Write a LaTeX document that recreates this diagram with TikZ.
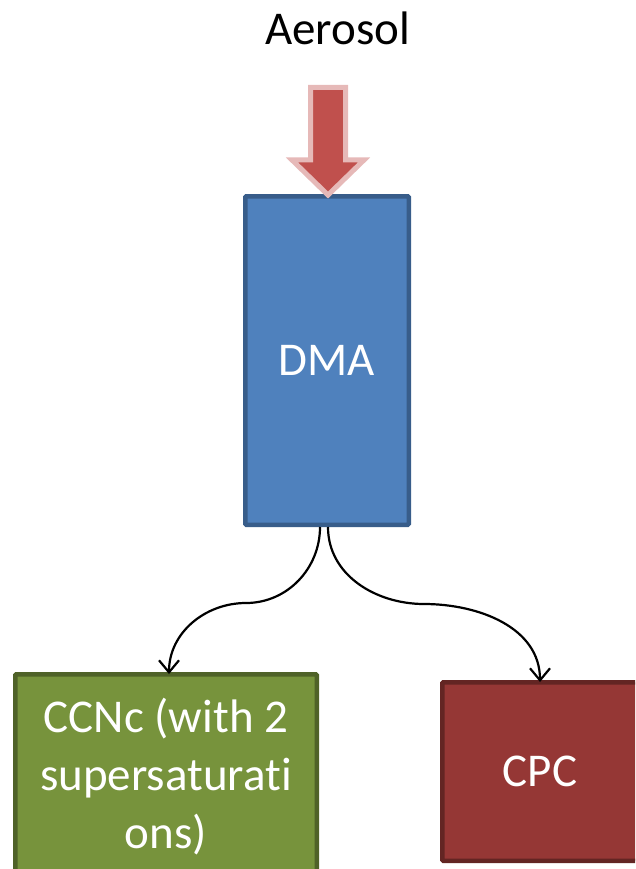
\documentclass[tikz,border=0pt]{standalone}
\usepackage{fontspec}
\setmainfont{Carlito}[Ligatures=NoCommon]
\usetikzlibrary{arrows.meta}

\definecolor{dmafill}{HTML}{4F81BD}
\definecolor{dmaline}{HTML}{385D8A}
\definecolor{ccnfill}{HTML}{77933C}
\definecolor{ccnline}{HTML}{4F6228}
\definecolor{cpcfill}{HTML}{953735}
\definecolor{cpcline}{HTML}{632523}
\definecolor{inflow}{HTML}{C0504D}
\definecolor{inflowedge}{HTML}{E6B9B8}

\tikzset{
  unit/.style={draw, line width=4.5pt, rounded corners=1pt, text=white,
    font=\fontsize{47}{58}\selectfont, align=center, inner sep=0pt},
  conn/.style={line width=2.2pt, -{Straight Barb[length=12pt,width=20pt,line width=2.2pt]}},
}

\begin{document}
\begin{tikzpicture}[x=1pt, y=-1pt]
  \useasboundingbox (0,0) rectangle (635,869);
  \clip (0,0) rectangle (635,869);

  % title
  \node[anchor=base, font=\fontsize{47}{58}\selectfont] (aerosol) at (337.5,45) {Aerosol};

  % instruments
  \node[unit, fill=dmafill, draw=dmaline, minimum width=163.5pt, minimum height=328.5pt]
    (dma) at (327,360.5) {DMA};
  \node[unit, fill=ccnfill, draw=ccnline, minimum width=301.5pt, minimum height=205.5pt]
    (ccn) at (166,777) {CCNc (with 2\\supersaturati\\ons)};
  \node[unit, fill=cpcfill, draw=cpcline, minimum width=195.5pt, minimum height=178.5pt]
    (cpc) at (540,771.5) {CPC};

  % aerosol inlet arrow
  \draw[line width=5pt, draw=inflowedge, fill=inflow, line join=miter]
    (310.5,87.5) -- (345.5,87.5) -- (345.5,160) -- (364,160) -- (328,195)
    -- (292,160) -- (310.5,160) -- cycle;

  % sample split
  \coordinate (lmid) at (246,603);
  \coordinate (rmid) at (424,604);
  \draw[conn] ([xshift=-7pt]dma.south) to[out=-90,in=0] (lmid)
    to[out=180,in=90] ([xshift=3pt,yshift=-2pt]ccn.north);
  \draw[conn] ([xshift=1pt]dma.south) to[out=-90,in=180] (rmid)
    to[out=0,in=90] ([yshift=-2pt]cpc.north);
\end{tikzpicture}
\end{document}
